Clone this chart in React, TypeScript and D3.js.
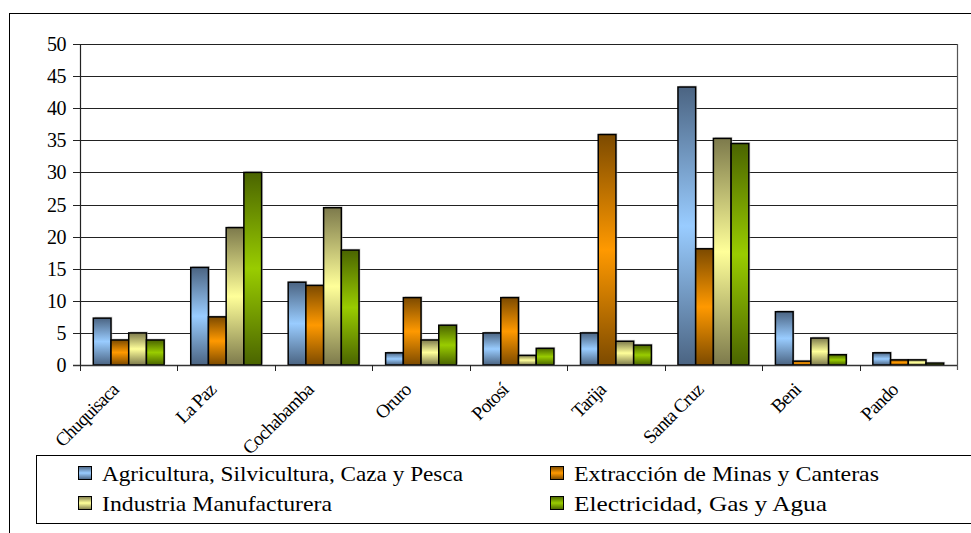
import React from "react";
import * as d3 from "d3";

const categories = ["Chuquisaca", "La Paz", "Cochabamba", "Oruro", "Potosí", "Tarija", "Santa Cruz", "Beni", "Pando"];
const seriesNames = [
  "Agricultura, Silvicultura, Caza y Pesca",
  "Extracción de Minas y Canteras",
  "Industria Manufacturera",
  "Electricidad, Gas y Agua",
];
const agricultura = [7.3, 15.2, 12.9, 1.9, 5.0, 5.0, 43.3, 8.3, 1.9];
const extraccion = [3.9, 7.5, 12.4, 10.5, 10.5, 35.9, 18.1, 0.6, 0.8];
const industria = [5.0, 21.4, 24.5, 3.9, 1.5, 3.7, 35.3, 4.2, 0.8];
const electricidad = [3.9, 30.0, 17.9, 6.2, 2.6, 3.1, 34.5, 1.6, 0.3];
const yTicks = [0, 5, 10, 15, 20, 25, 30, 35, 40, 45, 50];

const seriesValues = [agricultura, extraccion, industria, electricidad];
const darkColors = ["#4b6482", "#7c4a00", "#7d7a4c", "#4a6400"];
const lightColors = ["#99ccff", "#ff9900", "#ffff99", "#99cc00"];

const W = 971;
const H = 533;
const plot = { left: 80, right: 957, top: 44, bottom: 365 };
const FONT = "'Times New Roman', 'Liberation Serif', 'DejaVu Serif', serif";

export default function App() {
  const x0 = d3.scaleBand<string>().domain(categories).range([plot.left, plot.right]).paddingInner(0).paddingOuter(0);
  const bandW = x0.bandwidth();
  // gap width 150%: 4 bars + 1.5 bar widths of gap per category
  const barW = bandW / 5.5;
  const x1 = d3
    .scaleBand<number>()
    .domain([0, 1, 2, 3])
    .range([barW * 0.75, barW * 0.75 + barW * 4])
    .paddingInner(0);
  const y = d3.scaleLinear().domain([0, 50]).range([plot.bottom, plot.top]);

  const legendItems = [
    { i: 0, x: 78, y: 473 },
    { i: 1, x: 550, y: 473 },
    { i: 2, x: 78, y: 503 },
    { i: 3, x: 550, y: 503 },
  ];
  const legendTextLen = [361, 305, 230, 253];
  const txt: React.CSSProperties = { fontFamily: FONT };

  return (
    <svg
      width={W}
      height={H}
      style={{ position: "absolute", left: 0, top: 0, background: "#fff", fontFamily: FONT }}
    >
      <defs>
        {darkColors.map((d, i) => (
          <linearGradient key={i} id={`g${i}`} x1="0" y1="0" x2="0" y2="1">
            <stop offset="0%" stopColor={d} />
            <stop offset="50%" stopColor={lightColors[i]} />
            <stop offset="100%" stopColor={d} />
          </linearGradient>
        ))}
      </defs>
      <rect x={0} y={0} width={W} height={H} fill="#fff" />
      {/* outer frame */}
      <rect x={9.5} y={13.5} width={1100} height={700} fill="none" stroke="#000" strokeWidth={1} />

      {/* gridlines */}
      {yTicks.map((t) => (
        <line
          key={t}
          x1={plot.left}
          x2={plot.right}
          y1={Math.round(y(t)) + 0.5}
          y2={Math.round(y(t)) + 0.5}
          stroke="#222"
          strokeWidth={1}
        />
      ))}
      {/* right border of plot */}
      <line x1={plot.right + 0.5} x2={plot.right + 0.5} y1={plot.top} y2={plot.bottom + 5} stroke="#555" strokeWidth={1.2} />

      {/* bars */}
      {categories.map((c, ci) => (
        <g key={c} transform={`translate(${x0(c)},0)`}>
          {seriesValues.map((vals, si) => {
            const v = vals[ci];
            const bx = x1(si)!;
            const by = y(v);
            const bh = y(0) - y(v);
            return (
              <g key={si}>
                <rect x={bx + 1.5} y={by - 1.5} width={barW} height={bh} fill="#bbb" opacity={0.5} />
                <rect
                  x={bx}
                  y={by}
                  width={barW}
                  height={bh}
                  fill={`url(#g${si})`}
                  stroke="#000"
                  strokeWidth={1.5}
                />
              </g>
            );
          })}
        </g>
      ))}

      {/* y axis */}
      <line x1={plot.left + 0.5} x2={plot.left + 0.5} y1={plot.top} y2={plot.bottom} stroke="#222" strokeWidth={1.2} />
      {yTicks.map((t) => (
        <g key={t}>
          <line
            x1={plot.left - 7}
            x2={plot.left}
            y1={Math.round(y(t)) + 0.5}
            y2={Math.round(y(t)) + 0.5}
            stroke="#222"
            strokeWidth={1}
          />
          <text x={66} y={y(t)} dy="0.35em" textAnchor="end" fontSize={20} fill="#000" letterSpacing={-0.5} style={txt}>
            {t}
          </text>
        </g>
      ))}

      {/* x axis */}
      <line x1={plot.left - 7} x2={plot.right} y1={plot.bottom + 0.5} y2={plot.bottom + 0.5} stroke="#333" strokeWidth={1.5} />
      {categories.map((c) => (
        <line
          key={c}
          x1={Math.round(x0(c)!) + 0.5}
          x2={Math.round(x0(c)!) + 0.5}
          y1={plot.bottom}
          y2={plot.bottom + 6}
          stroke="#222"
          strokeWidth={1}
        />
      ))}
      {categories.map((c) => {
        const cx = x0(c)! + bandW / 2;
        return (
          <text
            key={c}
            transform={`translate(${cx - 9},${391}) rotate(-45)`}
            textAnchor="end"
            fontSize={19}
            letterSpacing={-0.8}
            fill="#000"
            style={txt}
          >
            {c}
          </text>
        );
      })}

      {/* legend */}
      <rect x={36.5} y={455.5} width={1100} height={68} fill="#fff" stroke="#000" strokeWidth={1} />
      {legendItems.map((it, k) => (
        <g key={k}>
          <rect
            x={it.x + 0.5}
            y={it.y - 6.5}
            width={13}
            height={13}
            fill={`url(#g${it.i})`}
            stroke="#000"
            strokeWidth={1}
          />
          <text
            x={it.x + 24}
            y={it.y}
            dy="0.35em"
            fontSize={22}
            fill="#000"
            textLength={legendTextLen[it.i]}
            lengthAdjust="spacingAndGlyphs"
            style={txt}
          >
            {seriesNames[it.i]}
          </text>
        </g>
      ))}
    </svg>
  );
}
